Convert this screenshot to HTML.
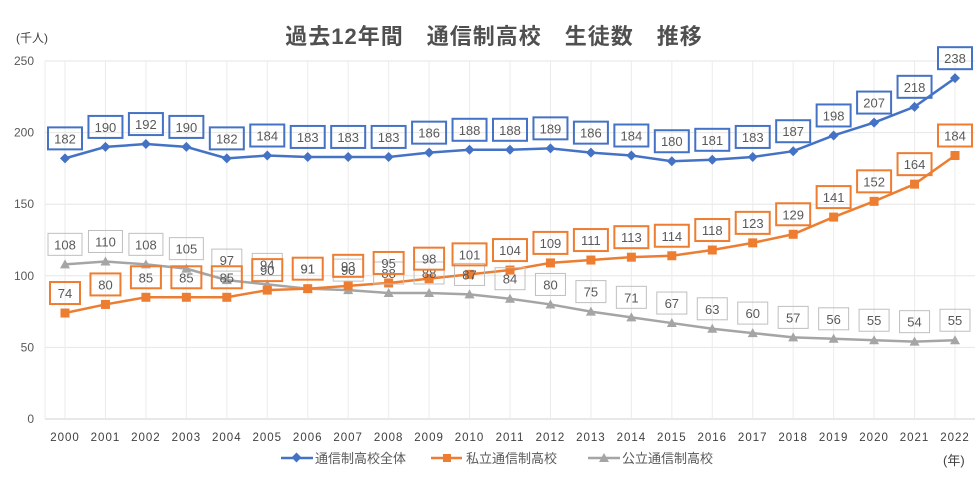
<!DOCTYPE html>
<html><head><meta charset="utf-8"><style>
body{margin:0;background:#fff;}
svg{display:block;font-family:"Liberation Sans","Noto Sans CJK JP",sans-serif;}
</style></head><body>
<svg id="chart" width="978" height="480">
<text x="494" y="44" text-anchor="middle" font-size="22" font-weight="bold" fill="#505050" letter-spacing="1">過去12年間　通信制高校　生徒数　推移</text>
<text x="16" y="42" font-size="12" fill="#404040">(千人)</text>
<text x="943" y="465" font-size="13" fill="#404040">(年)</text>
<g id="grid"></g><g id="axes"></g><g id="series"></g><g id="labels"></g>
<g>
<g><line x1="281" y1="458" x2="313" y2="458" stroke="#4472C4" stroke-width="2.5"/><rect x="293" y="454" width="7" height="7" fill="#4472C4" transform="rotate(45 296.5 457.5)"/><text x="315" y="463" font-size="13" fill="#595959">通信制高校全体</text></g>
<g><line x1="431" y1="458" x2="462" y2="458" stroke="#ED7D31" stroke-width="2.5"/><rect x="443" y="454" width="8" height="8" fill="#ED7D31"/><text x="466" y="463" font-size="13" fill="#595959">私立通信制高校</text></g>
<g><line x1="588" y1="458" x2="620" y2="458" stroke="#A5A5A5" stroke-width="2.5"/><polygon points="604,453 609,462 599,462" fill="#A5A5A5"/><text x="622" y="463" font-size="13" fill="#595959">公立通信制高校</text></g>
</g>
</svg>
<script>
const years=["2000","2001","2002","2003","2004","2005","2006","2007","2008","2009","2010","2011","2012","2013","2014","2015","2016","2017","2018","2019","2020","2021","2022"];
const totalValues=[182,190,192,190,182,184,183,183,183,186,188,188,189,186,184,180,181,183,187,198,207,218,238];
const privateValues=[74,80,85,85,85,90,91,93,95,98,101,104,109,111,113,114,118,123,129,141,152,164,184];
const publicValues=[108,110,108,105,97,94,91,90,88,88,87,84,80,75,71,67,63,60,57,56,55,54,55];
const yTicks=[0,50,100,150,200,250];
const NS="http://www.w3.org/2000/svg";
const x0=65,x1=955,yBase=419,yTop=61,yMax=250;
function xs(i){return x0+i*(x1-x0)/(years.length-1);}
function ys(v){return yBase-v*(yBase-yTop)/yMax;}
function mk(tag,attrs,parent){const e=document.createElementNS(NS,tag);for(const k in attrs)e.setAttribute(k,attrs[k]);parent.appendChild(e);return e;}
const grid=document.getElementById('grid'),axes=document.getElementById('axes'),ser=document.getElementById('series'),lab=document.getElementById('labels');
yTicks.forEach(t=>{
 const l=mk('line',{x1:45,x2:975,y1:ys(t),y2:ys(t),stroke:t===0?'#D0D0D0':'#E6E6E6','stroke-width':1},grid);
 
 
 const tx=mk('text',{x:34,y:ys(t)+4,'text-anchor':'end','font-size':12,fill:'#595959'},axes);
 tx.textContent=t;
 
 
});
years.forEach((y,i)=>{
 const l=mk('line',{x1:xs(i),x2:xs(i),y1:yTop,y2:yBase,stroke:'#EBEBEB','stroke-width':1},grid);
 
 
 const tx=mk('text',{x:xs(i),y:441,'text-anchor':'middle','font-size':11.5,fill:'#404040','letter-spacing':'1'},axes);
 tx.textContent=y;
 
 
});
mk('line',{x1:45,x2:45,y1:yTop,y2:yBase,stroke:'#EBEBEB'},grid);
function drawSeries(vals,color,shape,name){
 const pts=vals.map((v,i)=>xs(i)+','+ys(v)).join(' ');
 const pl=mk('polyline',{points:pts,fill:'none',stroke:color,'stroke-width':2.5},ser);
 
 
 vals.forEach((v,i)=>{
  const cx=xs(i),cy=ys(v);let m;
  if(shape==='diamond')m=mk('polygon',{points:`${cx},${cy-5} ${cx+5},${cy} ${cx},${cy+5} ${cx-5},${cy}`,fill:color},ser);
  else if(shape==='square')m=mk('rect',{x:cx-4.5,y:cy-4.5,width:9,height:9,fill:color},ser);
  else m=mk('polygon',{points:`${cx},${cy-5} ${cx+5},${cy+4} ${cx-5},${cy+4}`,fill:color},ser);
  
  
 });
}
function drawLabels(vals,color,sw,name){
 vals.forEach((v,i)=>{
  const cx=xs(i),cy=ys(v)-20,w=String(v).length>2?34:30;
  const r=mk('rect',{x:cx-w/2,y:cy-11,width:w,height:22,fill:'none',stroke:color,'stroke-width':sw},lab);
  
  
  const t=mk('text',{x:cx,y:cy+5,'text-anchor':'middle','font-size':13,fill:'#595959'},lab);
  t.textContent=v;
  
  
 });
}
drawSeries(publicValues,'#A5A5A5','triangle','public');
drawSeries(privateValues,'#ED7D31','square','private');
drawSeries(totalValues,'#4472C4','diamond','total');
drawLabels(publicValues,'#BFBFBF',1,'public');
drawLabels(privateValues,'#ED7D31',2,'private');
drawLabels(totalValues,'#4472C4',2,'total');
</script>
</body></html>
